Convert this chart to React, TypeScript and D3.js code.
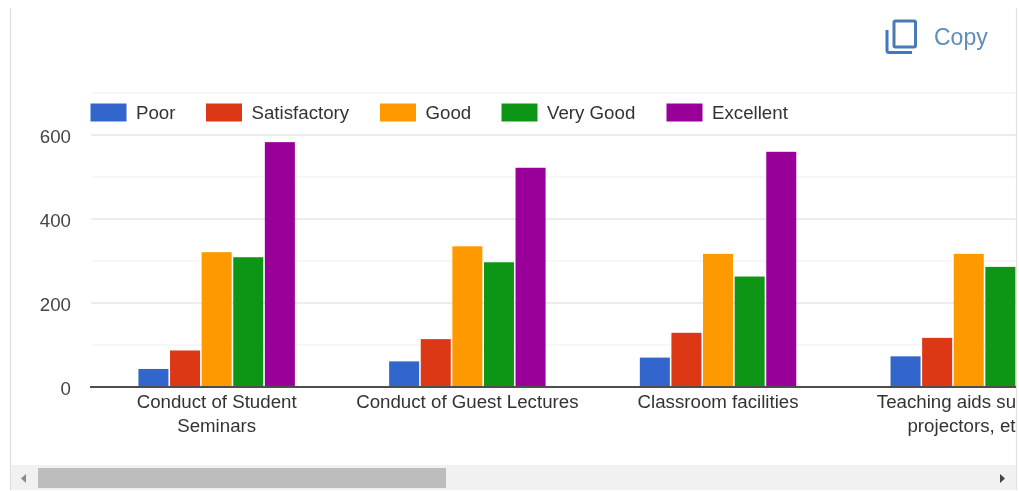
import React from "react";
import * as d3 from "d3";

const categories = [
  ["Conduct of Student", "Seminars"],
  ["Conduct of Guest Lectures"],
  ["Classroom facilities"],
  ["Teaching aids such as", "projectors, etc."],
];
const seriesNames = ["Poor", "Satisfactory", "Good", "Very Good", "Excellent"];
const seriesColors = ["#3366cc", "#dc3912", "#ff9900", "#109618", "#990099"];
const poor = [43, 61, 70, 73];
const satisfactory = [87, 114, 129, 117];
const good = [321, 335, 317, 317];
const veryGood = [309, 297, 263, 286];
// The fourth group's Excellent bar is scrolled out of view in the reference, so it has no value here.
const excellent = [583, 522, 560];
const seriesValues = [poor, satisfactory, good, veryGood, excellent];
const majorTicks = [0, 200, 400, 600];
const minorTicks = [100, 300, 500, 700];
const legendSwatchX = [90.5, 206, 380, 501.5, 666.5];

const FONT = "'Liberation Sans', Arial, sans-serif";
const TEXT_SIZE = 18.7;

export default function App() {
  const y = d3.scaleLinear().domain([0, 600]).range([387, 135]);
  const x0 = d3
    .scaleBand<number>()
    .domain(categories.map((_, i) => i))
    .range([91.3, 91.3 + 250.7 * categories.length])
    .paddingInner(0.376)
    .paddingOuter(0.188);
  const x1 = d3
    .scaleBand<number>()
    .domain(seriesNames.map((_, i) => i))
    .range([0, x0.bandwidth()])
    .paddingInner(0.05);

  return (
    <svg
      width={1019}
      height={491}
      style={{ position: "absolute", left: 0, top: 0, background: "#fff" }}
    >
      <defs>
        <clipPath id="plot">
          <rect x={0} y={60} width={1016} height={400} />
        </clipPath>
        <filter id="soft" x="0" y="0" width="100%" height="100%">
          <feGaussianBlur stdDeviation={0.5} />
        </filter>
      </defs>
      <g filter="url(#soft)">
        <rect x={0} y={0} width={1019} height={491} fill="#fff" />
        {/* frame */}
        <line x1={10.5} x2={10.5} y1={8} y2={490} stroke="#dedede" strokeWidth={1.2} />
        <line x1={1016.5} x2={1016.5} y1={8} y2={490} stroke="#e2e2e2" strokeWidth={1.2} />

        {/* copy button */}
        <g fill="none" stroke="#3d79c4" strokeWidth={3}>
          <rect x={894} y={21} width={21.5} height={26} rx={1.5} stroke="#4a7ab5" />
          <path d="M887 30V50.5a2 2 0 0 0 2 2H912" />
        </g>
        <text x={934} y={45} fontFamily={FONT} fontSize={23} fill="#5d8db8">
          Copy
        </text>

        {/* grid */}
        {minorTicks.map((t) => (
          <line key={t} x1={91} x2={1016} y1={y(t)} y2={y(t)} stroke="#f0f0f0" strokeWidth={1.2} />
        ))}
        {majorTicks
          .filter((t) => t > 0)
          .map((t) => (
            <line key={t} x1={91} x2={1016} y1={y(t)} y2={y(t)} stroke="#d9d9d9" strokeWidth={1.2} />
          ))}

        {/* y labels */}
        {majorTicks.map((t) => (
          <text
            key={t}
            x={71}
            y={y(t) + 7.5}
            textAnchor="end"
            fontFamily={FONT}
            fontSize={TEXT_SIZE}
            fill="#444"
          >
            {t}
          </text>
        ))}

        {/* bars */}
        <g clipPath="url(#plot)">
          {categories.map((_, c) =>
            seriesValues.map((vals, s) =>
              vals[c] === undefined ? null : (
                <rect
                  key={`${c}-${s}`}
                  x={(x0(c) as number) + (x1(s) as number)}
                  y={y(vals[c])}
                  width={x1.bandwidth()}
                  height={y(0) - y(vals[c])}
                  fill={seriesColors[s]}
                />
              )
            )
          )}
          <line x1={90} x2={1016} y1={y(0)} y2={y(0)} stroke="#4d4d4d" strokeWidth={2} />

          {/* x labels */}
          {categories.map((lines, c) =>
            lines.map((ln, i) => (
              <text
                key={ln}
                x={(x0(c) as number) + x0.bandwidth() / 2}
                y={408 + i * 24}
                textAnchor="middle"
                fontFamily={FONT}
                fontSize={TEXT_SIZE}
                fill="#333"
              >
                {ln}
              </text>
            ))
          )}
        </g>

        {/* legend */}
        {seriesNames.map((name, s) => (
          <g key={name}>
            <rect
              x={legendSwatchX[s]}
              y={103.5}
              width={36}
              height={18}
              fill={seriesColors[s]}
            />
            <text
              x={legendSwatchX[s] + 45.5}
              y={118.5}
              fontFamily={FONT}
              fontSize={TEXT_SIZE}
              fill="#333"
            >
              {name}
            </text>
          </g>
        ))}

        {/* scrollbar */}
        <rect x={11} y={465} width={1005} height={25} fill="#f1f1f1" />
        <rect x={38} y={468} width={408} height={20} fill="#bdbdbd" />
        <path d="M21 478.5l5-4.5v9z" fill="#8a8a8a" />
        <path d="M1005 478.5l-5-4.5v9z" fill="#444" />
      </g>
    </svg>
  );
}
